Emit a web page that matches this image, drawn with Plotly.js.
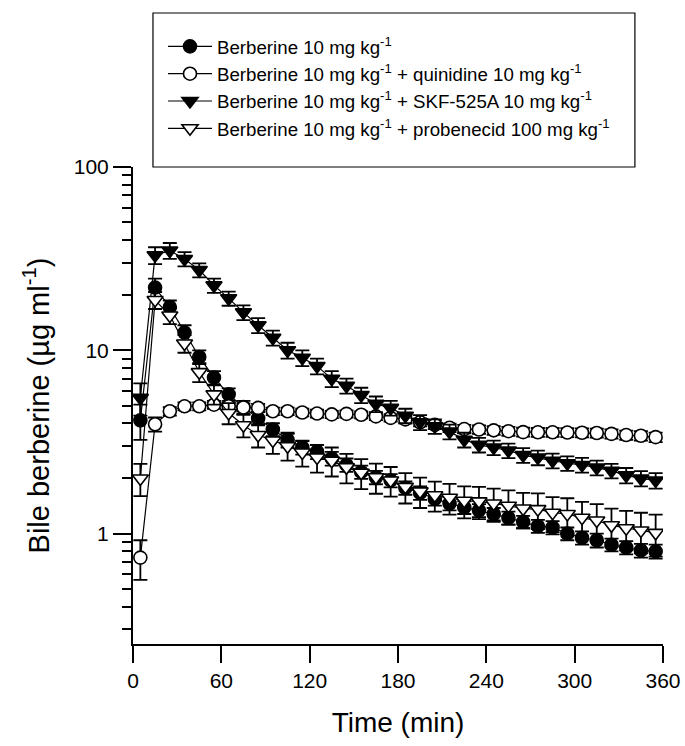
<!DOCTYPE html>
<html>
<head>
<meta charset="utf-8">
<script src="https://cdn.plot.ly/plotly-3.0.1.min.js"></script>
<style>html,body{margin:0;padding:0;background:#fff;}#chart{width:685px;height:746px;}</style>
</head>
<body>
<div id="chart"></div>
<script>
const time = [5,15,25,35,45,55,65,75,85,95,105,115,125,135,145,155,165,175,185,195,205,215,225,235,245,255,265,275,285,295,305,315,325,335,345,355];

const berberine = [4.15,22.0,17.2,12.5,9.2,7.1,5.75,4.9,4.25,3.7,3.25,2.95,2.8,2.57,2.37,2.17,2.03,1.95,1.78,1.67,1.55,1.46,1.39,1.34,1.28,1.22,1.16,1.10,1.08,1.0,0.95,0.92,0.87,0.84,0.81,0.80];
const berberineErr = [0.9,2.6,1.5,1.2,0.8,0.6,0.45,0.4,0.35,0.3,0.3,0.25,0.25,0.22,0.2,0.18,0.17,0.16,0.15,0.14,0.13,0.12,0.11,0.11,0.1,0.1,0.09,0.09,0.09,0.08,0.08,0.08,0.07,0.07,0.07,0.07];

const quinidine = [0.74,3.95,4.65,4.95,4.95,5.05,4.95,4.88,4.85,4.65,4.65,4.58,4.52,4.47,4.5,4.45,4.36,4.28,4.2,4.05,3.92,3.78,3.72,3.7,3.66,3.62,3.58,3.57,3.57,3.56,3.55,3.54,3.5,3.45,3.42,3.36];
const quinidineErr = [0.18,0.35,0.25,0.25,0.25,0.25,0.25,0.25,0.25,0.22,0.22,0.22,0.22,0.2,0.2,0.2,0.2,0.2,0.2,0.2,0.2,0.2,0.2,0.2,0.2,0.2,0.2,0.2,0.2,0.2,0.2,0.2,0.2,0.2,0.2,0.2];

const skf = [5.5,33,35,31.5,27.4,22.6,19.2,16.1,13.7,11.7,10.0,9.1,8.2,7.0,6.4,5.7,5.1,4.85,4.4,4.05,3.85,3.6,3.25,3.05,2.95,2.84,2.68,2.6,2.5,2.42,2.37,2.29,2.2,2.08,2.0,1.95];
const skfErr = [1.1,3.5,3.5,2.8,2.4,2.0,1.7,1.5,1.3,1.1,1.0,0.9,0.8,0.7,0.6,0.55,0.5,0.45,0.4,0.38,0.35,0.33,0.3,0.28,0.27,0.26,0.25,0.24,0.23,0.22,0.22,0.21,0.2,0.2,0.19,0.19];

const probenecid = [2.0,18.8,15.5,10.9,7.6,5.75,4.55,3.9,3.45,3.22,3.0,2.77,2.6,2.5,2.3,2.15,2.03,1.95,1.8,1.7,1.62,1.57,1.51,1.5,1.46,1.42,1.37,1.36,1.3,1.28,1.22,1.18,1.11,1.07,1.04,1.01];
const probenecidErr = [0.4,2.0,1.6,1.2,0.9,0.7,0.6,0.55,0.5,0.5,0.5,0.45,0.45,0.45,0.42,0.4,0.38,0.36,0.34,0.32,0.3,0.3,0.3,0.3,0.3,0.3,0.3,0.3,0.28,0.28,0.27,0.27,0.26,0.26,0.26,0.26];

const names = [
  'Berberine 10 mg kg<sup>-1</sup>',
  'Berberine 10 mg kg<sup>-1</sup> + quinidine 10 mg kg<sup>-1</sup>',
  'Berberine 10 mg kg<sup>-1</sup> + SKF-525A 10 mg kg<sup>-1</sup>',
  'Berberine 10 mg kg<sup>-1</sup> + probenecid 100 mg kg<sup>-1</sup>'
];

const xTicks = [0,60,120,180,240,300,360];
const yTicks = [1,10,100];
const yTickText = ['1','10','100'];
const yMinor = [0.3,0.4,0.5,0.6,0.7,0.8,0.9,2,3,4,5,6,7,8,9,20,30,40,50,60,70,80,90];

function mk(y, err, name, symbol, fill, size) {
  return {
    x: time, y: y, name: name, type: 'scatter', mode: 'lines+markers',
    line: {color: '#000', width: 1.2},
    marker: {symbol: symbol, size: size, color: fill, line: {color: '#000', width: 1.6}},
    error_y: {type: 'data', array: err, visible: true, color: '#000', thickness: 1.8, width: 7}
  };
}

const data = [
  mk(berberine, berberineErr, names[0], 'circle', '#000', 13),
  mk(quinidine, quinidineErr, names[1], 'circle', '#fff', 13),
  mk(skf, skfErr, names[2], 'triangle-down', '#000', 14),
  mk(probenecid, probenecidErr, names[3], 'triangle-down', '#fff', 14)
];

const font = 'Liberation Sans, Arial, Helvetica, sans-serif';

const layout = {
  width: 685, height: 746,
  margin: {l: 133, r: 22, t: 167, b: 102},
  paper_bgcolor: '#fff', plot_bgcolor: '#fff',
  font: {family: font, color: '#000', size: 21},
  showlegend: true,
  legend: {
    x: 0.0566, y: 1.292, xanchor: 'left', yanchor: 'top',
    borderwidth: 0, bgcolor: 'rgba(0,0,0,0)',
    font: {family: font, size: 18.7, color: '#000'},
    itemwidth: 44, tracegroupgap: 0
  },
  shapes: [{
    type: 'rect', xref: 'paper', yref: 'paper',
    x0: 0.0377, x1: 0.947, y0: 1.0, y1: 1.3229,
    line: {color: '#000', width: 1.2}, fillcolor: 'rgba(0,0,0,0)'
  }],
  xaxis: {
    range: [0, 360], tickmode: 'array', tickvals: xTicks,
    ticks: 'outside', ticklen: 17, tickwidth: 2, tickcolor: '#000',
    showline: true, linecolor: '#000', linewidth: 2,
    showgrid: false, zeroline: false,
    tickfont: {size: 21},
    title: {text: 'Time (min)', font: {size: 28}, standoff: 21}
  },
  yaxis: {
    type: 'log', range: [Math.log10(0.25), 2],
    tickmode: 'array', tickvals: yTicks, ticktext: yTickText,
    ticks: 'outside', ticklen: 18, tickwidth: 2, tickcolor: '#000',
    minor: {ticks: 'outside', ticklen: 9, tickwidth: 2, tickcolor: '#000', tickmode: 'array', tickvals: yMinor, showgrid: false},
    showline: true, linecolor: '#000', linewidth: 2,
    showgrid: false, zeroline: false,
    tickfont: {size: 21},
    title: {text: 'Bile berberine (µg ml<sup>-1</sup>)', font: {size: 29}, standoff: 16}
  }
};

Plotly.newPlot('chart', data, layout, {displayModeBar: false, staticPlot: true});
</script>
</body>
</html>
